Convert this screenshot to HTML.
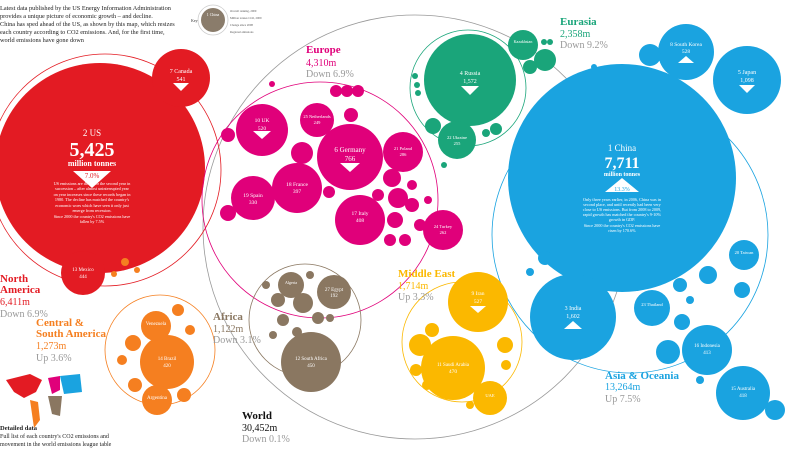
<!DOCTYPE html>
<html><head><meta charset="utf-8"><style>
body{margin:0;background:#fff;width:800px;height:450px;overflow:hidden;font-family:"Liberation Serif",serif}
svg text{font-family:"Liberation Serif",serif}
</style></head><body>
<svg width="800" height="450" viewBox="0 0 800 450" xmlns="http://www.w3.org/2000/svg">
<g font-size="6.3" fill="#222">
<text x="0" y="10">Latest data published by the US Energy Information Administration</text>
<text x="0" y="18">provides a unique picture of economic growth – and decline.</text>
<text x="0" y="26">China has sped ahead of the US, as shown by this map, which resizes</text>
<text x="0" y="34">each country according to CO2 emissions. And, for the first time,</text>
<text x="0" y="42">world emissions have gone down</text>
</g>
<!-- key -->
<text x="191" y="22" font-size="4" fill="#333">Key</text>
<circle cx="213" cy="20" r="15" fill="none" stroke="#ccc" stroke-width="0.8"/>
<circle cx="213" cy="20" r="12" fill="#8a7c6b"/>
<text x="213" y="16" font-size="4" fill="#fff" text-anchor="middle">1 China</text>
<g font-size="3" fill="#555"><text x="230" y="12">Overall ranking, 2009</text><text x="230" y="19">Million tonnes CO2, 2009</text><text x="230" y="26">Change since 2008</text><text x="230" y="33">Regional emissions</text></g>

<!-- world ring -->
<circle cx="415" cy="227" r="212" fill="none" stroke="#999" stroke-width="0.8"/>

<!-- North America -->
<circle cx="105" cy="170" r="116" fill="none" stroke="#e31b23" stroke-width="0.8"/>
<circle cx="100" cy="168" r="105" fill="#e31b23"/>
<circle cx="181" cy="78" r="29" fill="#e31b23"/>
<circle cx="83" cy="273" r="22" fill="#e31b23"/>
<g fill="#fff" text-anchor="middle">
<text x="92" y="136" font-size="9">2 US</text>
<text x="92" y="156" font-size="20" font-weight="bold">5,425</text>
<text x="92" y="166" font-size="8" font-weight="bold">million tonnes</text>
<polygon points="73,171 111,171 92,188" fill="#fff"/>
<text x="92" y="178" font-size="7" fill="#e31b23">7.0%</text>
<g font-size="4.2"><text x="92" y="185">US emissions are down for the second year in</text><text x="92" y="190">succession – after almost uninterrupted year</text><text x="92" y="196">on year increases since these records began in</text><text x="92" y="201">1980. The decline has matched the country's</text><text x="92" y="207">economic woes which have seen it only just</text><text x="92" y="212">emerge from recession.</text><text x="92" y="218">Since 2000 the country's CO2 emissions have</text><text x="92" y="223">fallen by 7.5%</text></g>
<text x="181" y="73" font-size="6">7 Canada</text><text x="181" y="81" font-size="6">541</text>
<polygon points="173,83 189,83 181,91"/>
<text x="83" y="271" font-size="5">13 Mexico</text><text x="83" y="278" font-size="5">444</text>
</g>
<text x="0" y="282" font-size="11" font-weight="bold" fill="#e31b23">North</text>
<text x="0" y="293" font-size="11" font-weight="bold" fill="#e31b23">America</text>
<text x="0" y="305" font-size="10" fill="#e31b23">6,411m</text>
<text x="0" y="317" font-size="10" fill="#999">Down 6.9%</text>

<!-- Central & South America -->
<circle cx="160" cy="350" r="55" fill="none" stroke="#f57f20" stroke-width="0.8"/>
<g fill="#f57f20">
<circle cx="167" cy="362" r="27"/><circle cx="156" cy="326" r="15"/><circle cx="157" cy="400" r="15"/>
<circle cx="133" cy="343" r="8"/><circle cx="135" cy="385" r="7"/><circle cx="184" cy="395" r="7"/><circle cx="178" cy="310" r="6"/><circle cx="122" cy="360" r="5"/><circle cx="190" cy="330" r="5"/><circle cx="125" cy="262" r="4"/><circle cx="137" cy="270" r="3"/><circle cx="114" cy="274" r="3"/>
</g>
<g fill="#fff" text-anchor="middle" font-size="5"><text x="167" y="360">14 Brazil</text><text x="167" y="367">420</text><text x="156" y="325">Venezuela</text><text x="157" y="399">Argentina</text></g>
<text x="36" y="326" font-size="11" font-weight="bold" fill="#f57f20">Central &amp;</text>
<text x="36" y="337" font-size="11" font-weight="bold" fill="#f57f20">South America</text>
<text x="36" y="349" font-size="10" fill="#f57f20">1,273m</text>
<text x="36" y="361" font-size="10" fill="#999">Up 3.6%</text>
<!-- map -->
<g fill="#e31b23"><path d="M6,380 L30,374 L42,380 L36,392 L24,398 L14,392 Z"/></g>
<path d="M30,400 L38,402 L40,420 L34,428 Z" fill="#f57f20"/>
<path d="M48,378 L60,376 L60,390 L52,394 Z" fill="#e0007a"/>
<path d="M48,396 L62,396 L60,416 L52,414 Z" fill="#8a7761"/>
<path d="M60,376 L80,374 L82,392 L64,394 Z" fill="#1aa3e0"/>
<text x="0" y="430" font-size="6.5" font-weight="bold" fill="#222">Detailed data</text>
<text x="0" y="438" font-size="6" fill="#222">Full list of each country's CO2 emissions and</text>
<text x="0" y="446" font-size="6" fill="#222">movement in the world emissions league table</text>

<!-- Europe -->
<circle cx="320" cy="200" r="118" fill="none" stroke="#e0007a" stroke-width="0.8"/>
<g fill="#e0007a">
<circle cx="350" cy="157" r="33"/><circle cx="262" cy="130" r="26"/><circle cx="297" cy="188" r="25"/><circle cx="253" cy="198" r="22"/><circle cx="360" cy="220" r="25"/><circle cx="317" cy="120" r="17"/><circle cx="403" cy="152" r="20"/><circle cx="443" cy="230" r="20"/>
<circle cx="302" cy="153" r="11"/><circle cx="228" cy="135" r="7"/><circle cx="228" cy="213" r="8"/><circle cx="351" cy="115" r="7"/><circle cx="336" cy="91" r="6"/><circle cx="347" cy="91" r="6"/><circle cx="358" cy="91" r="6"/><circle cx="329" cy="192" r="6"/><circle cx="392" cy="178" r="9"/><circle cx="398" cy="198" r="10"/><circle cx="395" cy="220" r="8"/><circle cx="412" cy="205" r="7"/><circle cx="420" cy="225" r="6"/><circle cx="390" cy="240" r="6"/><circle cx="405" cy="240" r="6"/><circle cx="378" cy="195" r="6"/><circle cx="412" cy="185" r="5"/><circle cx="428" cy="200" r="4"/><circle cx="272" cy="84" r="3"/>
</g>
<g fill="#fff" text-anchor="middle" font-size="5.5">
<text x="350" y="152" font-size="7">6 Germany</text><text x="350" y="161" font-size="7">766</text><polygon points="340,163 360,163 350,172"/>
<text x="262" y="122">10 UK</text><text x="262" y="130">520</text><polygon points="253,131 271,131 262,139"/>
<text x="297" y="186">18 France</text><text x="297" y="193">397</text>
<text x="253" y="197">19 Spain</text><text x="253" y="204">330</text>
<text x="360" y="215">17 Italy</text><text x="360" y="222">408</text>
<text x="317" y="118" font-size="4.5">25 Netherlands</text><text x="317" y="124" font-size="4.5">249</text>
<text x="403" y="150" font-size="4.5">21 Poland</text><text x="403" y="156" font-size="4.5">286</text>
<text x="443" y="228" font-size="4.5">24 Turkey</text><text x="443" y="234" font-size="4.5">262</text>
</g>
<text x="306" y="53" font-size="11" font-weight="bold" fill="#e0007a">Europe</text>
<text x="306" y="66" font-size="10" fill="#e0007a">4,310m</text>
<text x="306" y="77" font-size="10" fill="#999">Down 6.9%</text>

<!-- Eurasia -->
<circle cx="468" cy="88" r="58" fill="none" stroke="#1aa57a" stroke-width="0.8"/>
<g fill="#1aa57a">
<circle cx="470" cy="80" r="46"/><circle cx="457" cy="140" r="19"/><circle cx="523" cy="45" r="15"/><circle cx="545" cy="60" r="11"/><circle cx="530" cy="67" r="7"/><circle cx="433" cy="126" r="8"/><circle cx="496" cy="129" r="6"/><circle cx="486" cy="133" r="4"/><circle cx="415" cy="76" r="3"/><circle cx="417" cy="85" r="3"/><circle cx="418" cy="93" r="3"/><circle cx="544" cy="42" r="3"/><circle cx="550" cy="42" r="3"/><circle cx="444" cy="165" r="3"/>
</g>
<g fill="#fff" text-anchor="middle" font-size="6"><text x="470" y="75">4 Russia</text><text x="470" y="83">1,572</text><polygon points="461,86 479,86 470,95"/><text x="457" y="139" font-size="4.5">22 Ukraine</text><text x="457" y="145" font-size="4.5">255</text><text x="523" y="43" font-size="4">Kazakhstan</text></g>
<text x="560" y="25" font-size="11" font-weight="bold" fill="#1aa57a">Eurasia</text>
<text x="560" y="37" font-size="10" fill="#1aa57a">2,358m</text>
<text x="560" y="48" font-size="10" fill="#999">Down 9.2%</text>

<!-- Asia & Oceania -->
<circle cx="630" cy="235" r="138" fill="none" stroke="#1aa3e0" stroke-width="0.8"/>
<g fill="#1aa3e0">
<circle cx="622" cy="178" r="114"/><circle cx="747" cy="80" r="34"/><circle cx="686" cy="52" r="28"/><circle cx="650" cy="55" r="11"/><circle cx="573" cy="317" r="43"/><circle cx="743" cy="393" r="27"/><circle cx="707" cy="350" r="25"/><circle cx="652" cy="308" r="18"/><circle cx="744" cy="255" r="15"/><circle cx="668" cy="352" r="12"/><circle cx="682" cy="322" r="8"/><circle cx="708" cy="275" r="9"/><circle cx="742" cy="290" r="8"/><circle cx="680" cy="285" r="7"/><circle cx="545" cy="258" r="7"/><circle cx="594" cy="67" r="3"/><circle cx="530" cy="272" r="4"/><circle cx="775" cy="410" r="10"/><circle cx="700" cy="380" r="4"/><circle cx="690" cy="300" r="4"/>
</g>
<g fill="#fff" text-anchor="middle">
<text x="622" y="151" font-size="9">1 China</text><text x="622" y="168" font-size="16" font-weight="bold">7,711</text><text x="622" y="176" font-size="6" font-weight="bold">million tonnes</text>
<polygon points="622,178 605,192 639,192"/><text x="622" y="191" font-size="6" fill="#1aa3e0">13.3%</text>
<g font-size="4.2"><text x="622" y="201">Only three years earlier, in 2006, China was in</text><text x="622" y="206">second place, and until recently had been very</text><text x="622" y="211">close to US emissions. But from 2008 to 2009,</text><text x="622" y="216">rapid growth has matched the country's 9-10%</text><text x="622" y="221">growth in GDP.</text><text x="622" y="227">Since 2000 the country's CO2 emissions have</text><text x="622" y="232">risen by 170.6%</text></g>
<text x="747" y="74" font-size="6">5 Japan</text><text x="747" y="82" font-size="6">1,098</text><polygon points="739,85 755,85 747,93"/>
<text x="686" y="46" font-size="5.5">8 South Korea</text><text x="686" y="53" font-size="5.5">528</text><polygon points="686,56 678,63 694,63"/>
<text x="573" y="310" font-size="6">3 India</text><text x="573" y="318" font-size="6">1,602</text><polygon points="573,321 564,329 582,329"/>
<text x="743" y="390" font-size="5">15 Australia</text><text x="743" y="397" font-size="5">418</text>
<text x="707" y="347" font-size="5">16 Indonesia</text><text x="707" y="354" font-size="5">413</text>
<text x="652" y="306" font-size="4.5">23 Thailand</text><text x="744" y="254" font-size="4.5">20 Taiwan</text>
</g>
<text x="605" y="379" font-size="11" font-weight="bold" fill="#1aa3e0">Asia &amp; Oceania</text>
<text x="605" y="390" font-size="10" fill="#1aa3e0">13,264m</text>
<text x="605" y="402" font-size="10" fill="#999">Up 7.5%</text>

<!-- Middle East -->
<circle cx="462" cy="342" r="60" fill="none" stroke="#fbb800" stroke-width="0.8"/>
<g fill="#fbb800">
<circle cx="478" cy="302" r="30"/><circle cx="453" cy="368" r="32"/><circle cx="490" cy="398" r="17"/><circle cx="420" cy="345" r="11"/><circle cx="432" cy="330" r="7"/><circle cx="505" cy="345" r="8"/><circle cx="416" cy="370" r="6"/><circle cx="427" cy="385" r="5"/><circle cx="506" cy="365" r="5"/><circle cx="470" cy="405" r="4"/>
</g>
<g fill="#fff" text-anchor="middle" font-size="5.5"><text x="478" y="295">9 Iran</text><text x="478" y="303">527</text><polygon points="470,306 486,306 478,313"/><text x="453" y="366" font-size="5">11 Saudi Arabia</text><text x="453" y="373">470</text><text x="490" y="397" font-size="4.5">UAE</text></g>
<text x="398" y="277" font-size="11" font-weight="bold" fill="#fbb800">Middle East</text>
<text x="398" y="289" font-size="10" fill="#fbb800">1,714m</text>
<text x="398" y="300" font-size="10" fill="#999">Up 3.3%</text>

<!-- Africa -->
<circle cx="305" cy="320" r="56" fill="none" stroke="#8a7761" stroke-width="0.8"/>
<g fill="#8a7761">
<circle cx="311" cy="362" r="30"/><circle cx="334" cy="292" r="17"/><circle cx="291" cy="285" r="13"/><circle cx="303" cy="303" r="10"/><circle cx="278" cy="300" r="7"/><circle cx="283" cy="320" r="6"/><circle cx="318" cy="318" r="6"/><circle cx="297" cy="332" r="5"/><circle cx="273" cy="335" r="4"/><circle cx="330" cy="318" r="4"/><circle cx="266" cy="285" r="4"/><circle cx="310" cy="275" r="4"/>
</g>
<g fill="#fff" text-anchor="middle" font-size="5"><text x="311" y="360">12 South Africa</text><text x="311" y="367">450</text><text x="334" y="291">27 Egypt</text><text x="334" y="297">192</text><text x="291" y="284" font-size="4">Algeria</text></g>
<text x="213" y="320" font-size="11" font-weight="bold" fill="#8a7761">Africa</text>
<text x="213" y="332" font-size="10" fill="#8a7761">1,122m</text>
<text x="213" y="343" font-size="10" fill="#999">Down 3.1%</text>

<!-- World -->
<text x="242" y="419" font-size="11" font-weight="bold" fill="#111">World</text>
<text x="242" y="431" font-size="10" fill="#111">30,452m</text>
<text x="242" y="442" font-size="10" fill="#999">Down 0.1%</text>
</svg>
</body></html>
